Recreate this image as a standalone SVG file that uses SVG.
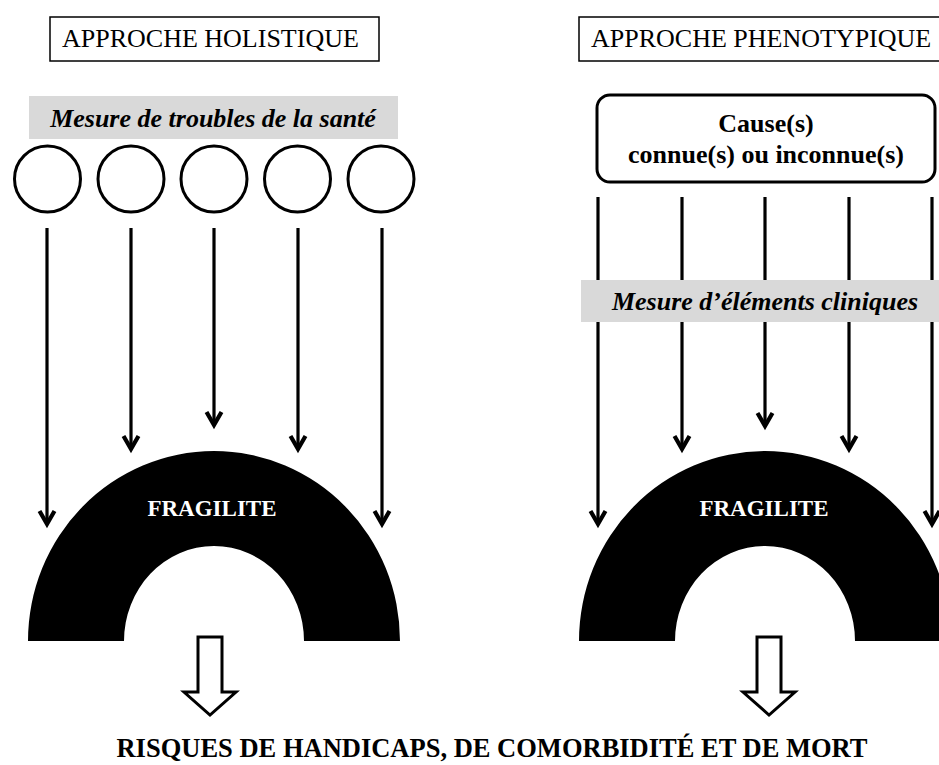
<svg xmlns="http://www.w3.org/2000/svg" width="939" height="765" viewBox="0 0 939 765">
  <style>
    .title { font-family: "Liberation Serif", "Times New Roman", serif; font-size: 26px; fill: #000; }
    .frame { fill: #fff; stroke: #000; stroke-width: 1.5; }
    .band { fill: #d9d9d9; }
    .bandtext { font-family: "Liberation Serif", "Times New Roman", serif; font-size: 26px; font-weight: bold; font-style: italic; fill: #000; text-anchor: middle; }
    .ring { fill: #fff; stroke: #000; stroke-width: 3; }
    .cause { fill: #fff; stroke: #000; stroke-width: 3; }
    .causetext { font-family: "Liberation Serif", "Times New Roman", serif; font-size: 26px; font-weight: bold; fill: #000; text-anchor: middle; }
    .arch { fill: #000; }
    .archtext { font-family: "Liberation Serif", "Times New Roman", serif; font-size: 23px; font-weight: bold; fill: #fff; text-anchor: middle; }
    .flow { fill: none; stroke: #000; stroke-width: 3.2; marker-end: url(#head); }
    .hollow { fill: #fff; stroke: #000; stroke-width: 3; stroke-linejoin: miter; }
    .outcome { font-family: "Liberation Serif", "Times New Roman", serif; font-size: 26.5px; font-weight: bold; fill: #000; text-anchor: middle; }
  </style>
  <defs>
    <marker id="head" markerUnits="userSpaceOnUse" markerWidth="24" markerHeight="24" viewBox="-20 -12 24 24" refX="0" refY="0" orient="auto" overflow="visible">
      <path d="M -13 -7.5 L 0 0 L -13 7.5" fill="none" stroke="#000" stroke-width="4.2" stroke-linejoin="miter"/>
    </marker>
  </defs>

  <rect width="939" height="765" fill="#fff"/>

  <!-- left column: holistic approach -->
  <g id="title-holistic">
    <rect class="frame" x="50" y="17" width="329" height="44"/>
    <text class="title" x="62" y="47">APPROCHE HOLISTIQUE</text>
  </g>
  <g id="band-troubles">
    <rect class="band" x="29" y="96" width="369" height="43"/>
    <text class="bandtext" x="213" y="127">Mesure de troubles de la santé</text>
  </g>
  <g id="troubles">
    <circle class="ring" cx="47.5" cy="179" r="33"/>
    <circle class="ring" cx="131" cy="179" r="33"/>
    <circle class="ring" cx="214" cy="179" r="33"/>
    <circle class="ring" cx="297.5" cy="179" r="33"/>
    <circle class="ring" cx="381" cy="179" r="33"/>
  </g>
  <g id="fragilite-holistic">
    <path class="arch" d="M 28 641 A 186 190 0 0 1 400 641 L 304 641 A 90 95 0 0 0 124 641 Z"/>
    <text class="archtext" x="212" y="516">FRAGILITE</text>
  </g>

  <!-- right column: phenotypic approach -->
  <g id="title-phenotypic">
    <rect class="frame" x="579" y="17" width="370" height="44"/>
    <text class="title" x="591" y="47">APPROCHE PHENOTYPIQUE</text>
  </g>
  <g id="causes">
    <rect class="cause" x="597" y="95" width="338" height="87" rx="13" ry="13"/>
    <text class="causetext" x="766" y="132">Cause(s)</text>
    <text class="causetext" x="766" y="163">connue(s) ou inconnue(s)</text>
  </g>
  <g id="fragilite-phenotypic">
    <path class="arch" d="M 579 641 A 186 190 0 0 1 951 641 L 855 641 A 90 95 0 0 0 675 641 Z"/>
    <text class="archtext" x="764" y="516">FRAGILITE</text>
  </g>

  <!-- connectors -->
  <g id="connectors">
    <line class="flow" x1="47" y1="228" x2="47" y2="524"/>
    <line class="flow" x1="131" y1="228" x2="131" y2="449"/>
    <line class="flow" x1="214" y1="228" x2="214" y2="425"/>
    <line class="flow" x1="298" y1="228" x2="298" y2="449"/>
    <line class="flow" x1="382" y1="228" x2="382" y2="524"/>

    <line class="flow" x1="598" y1="197" x2="598" y2="524"/>
    <line class="flow" x1="682" y1="197" x2="682" y2="449"/>
    <line class="flow" x1="765" y1="197" x2="765" y2="426"/>
    <line class="flow" x1="849" y1="197" x2="849" y2="449"/>
    <line class="flow" x1="932" y1="197" x2="932" y2="524"/>

    <path class="hollow" d="M 198 637 H 222 V 692 H 236 L 210 715 L 184 692 H 198 Z"/>
    <path class="hollow" d="M 757 637 H 781 V 692 H 795 L 769 715 L 743 692 H 757 Z"/>
  </g>

  <!-- clinical measures band sits over the cause lines -->
  <g id="band-cliniques">
    <rect class="band" x="581" y="280" width="370" height="42"/>
    <text class="bandtext" x="765" y="310">Mesure d’éléments cliniques</text>
  </g>

  <g id="outcome">
    <text class="outcome" x="492" y="757">RISQUES DE HANDICAPS, DE COMORBIDITÉ ET DE MORT</text>
  </g>
</svg>
